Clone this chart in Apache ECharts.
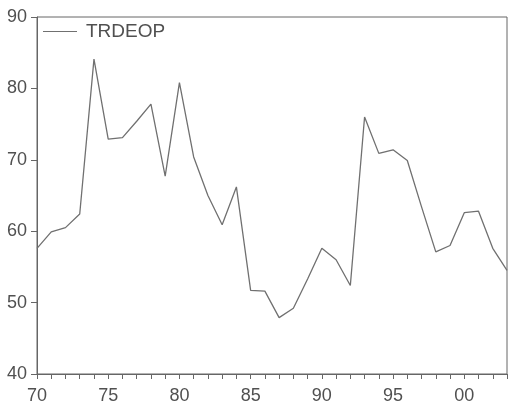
<!DOCTYPE html>
<html>
<head>
<meta charset="utf-8">
<script src="https://cdn.jsdelivr.net/npm/echarts@6/dist/echarts.min.js"></script>
<style>html,body{margin:0;padding:0;background:#fff;}#c{width:510px;height:414px;}</style>
</head>
<body>
<div id="c"></div>
<script>
var years = [1970,1971,1972,1973,1974,1975,1976,1977,1978,1979,1980,1981,1982,1983,1984,1985,1986,1987,1988,1989,1990,1991,1992,1993,1994,1995,1996,1997,1998,1999,2000,2001,2002,2003];
var trdeop = [57.6,59.9,60.5,62.4,84.1,72.9,73.1,75.4,77.8,67.7,80.8,70.4,65.0,60.9,66.2,51.7,51.6,47.9,49.2,53.3,57.6,56.0,52.4,76.0,70.9,71.4,69.9,63.4,57.1,58.0,62.6,62.8,57.6,54.5];
var seriesName = 'TRDEOP';

var chart = echarts.init(document.getElementById('c'), null, {renderer: 'canvas'});
var txt = '#505050';
var ax = '#666666';
var ff = 'Liberation Sans, Arial, sans-serif';
chart.setOption({
  animation: false,
  backgroundColor: '#ffffff',
  grid: {left: 37, right: 1, top: 17, bottom: 40, show: true, borderColor: ax, borderWidth: 1, backgroundColor: 'transparent'},
  legend: {
    left: 43, top: 22, padding: 0,
    icon: 'rect', itemWidth: 34, itemHeight: 1,
    textStyle: {fontFamily: ff, fontSize: 19, color: txt, padding: [0,0,0,4]},
    data: [seriesName]
  },
  xAxis: {
    type: 'value', min: 1970, max: 2003, interval: 1,
    axisLine: {lineStyle: {color: ax, width: 1}},
    axisTick: {show: true, length: 5, lineStyle: {color: ax}},
    splitLine: {show: false},
    axisLabel: {
      margin: 13, color: txt, fontSize: 18, fontFamily: ff,
      formatter: function (v) { return v % 5 === 0 ? String(v % 100).padStart(2, '0') : ''; }
    }
  },
  yAxis: {
    type: 'value', min: 40, max: 90, interval: 10,
    axisLine: {show: true, lineStyle: {color: ax, width: 1}},
    axisTick: {show: true, length: 6, lineStyle: {color: ax}},
    splitLine: {show: false},
    axisLabel: {margin: 10, color: txt, fontSize: 18, fontFamily: ff}
  },
  series: [{
    name: seriesName, type: 'line', symbol: 'none',
    lineStyle: {color: '#707070', width: 1.3},
    itemStyle: {color: '#707070'},
    data: years.map(function (y, i) { return [y, trdeop[i]]; })
  }]
});
</script>
</body>
</html>
